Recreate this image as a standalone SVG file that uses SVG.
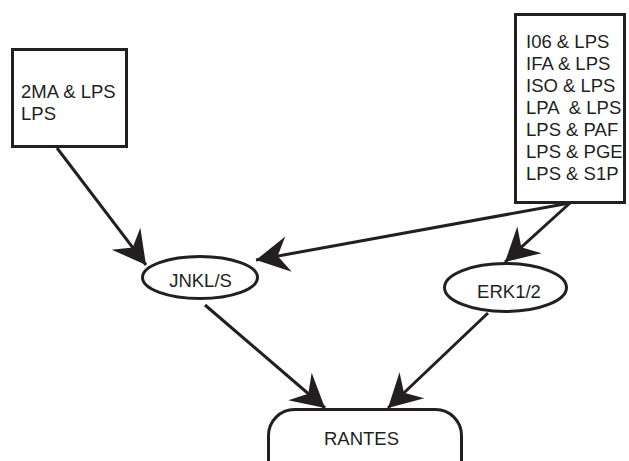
<svg xmlns="http://www.w3.org/2000/svg" width="629" height="461" viewBox="0 0 629 461">
  <style>
    .box { fill: #fff; stroke: #231f20; stroke-width: 3; }
    .node { fill: #fff; stroke: #231f20; stroke-width: 3; }
    .label { font-family: "Liberation Sans", Arial, Helvetica, sans-serif; font-size: 18.5px; fill: #231f20; white-space: pre; }
    .mid { text-anchor: middle; }
    .edge { fill: none; stroke: #231f20; stroke-width: 3; marker-end: url(#stealth); }
  </style>
  <defs>
    <marker id="stealth" markerUnits="userSpaceOnUse" markerWidth="40" markerHeight="40" viewBox="-34 -20 38 40" refX="0" refY="0" orient="auto" overflow="visible">
      <path d="M0,0 L-33,-18 L-22,0 L-33,18 Z" fill="#231f20"/>
    </marker>
  </defs>
  <rect width="629" height="461" fill="#fff"/>

  <g id="connectors">
    <path class="edge" d="M57,148 L146,265"/>
    <path class="edge" d="M570,203 L256,260"/>
    <path class="edge" d="M570,203 L505,262"/>
    <path class="edge" d="M205,305 L325,408"/>
    <path class="edge" d="M488,313 L388,408"/>
  </g>

  <g id="stimuli-left">
    <rect class="box" x="12.5" y="49.5" width="114" height="97"/>
    <text class="label" x="21" y="98">2MA &amp; LPS</text>
    <text class="label" x="21" y="120">LPS</text>
  </g>

  <g id="stimuli-right">
    <rect class="box" x="515.5" y="14.5" width="109" height="188"/>
    <text class="label" x="526" y="48">I06 &amp; LPS</text>
    <text class="label" x="526" y="70">IFA &amp; LPS</text>
    <text class="label" x="526" y="92">ISO &amp; LPS</text>
    <text class="label" x="526" y="114">LPA  &amp; LPS</text>
    <text class="label" x="526" y="136">LPS &amp; PAF</text>
    <text class="label" x="526" y="158">LPS &amp; PGE</text>
    <text class="label" x="526" y="180">LPS &amp; S1P</text>
  </g>

  <g id="jnk">
    <ellipse class="node" cx="200" cy="277.5" rx="57.5" ry="21"/>
    <text class="label mid" x="200.5" y="287">JNKL/S</text>
  </g>

  <g id="erk">
    <ellipse class="node" cx="505.5" cy="287.5" rx="61" ry="24"/>
    <text class="label mid" x="509" y="298">ERK1/2</text>
  </g>

  <g id="rantes">
    <rect class="node" x="268.5" y="409.5" width="193" height="80" rx="26" ry="26"/>
    <text class="label mid" x="361.5" y="445">RANTES</text>
  </g>
</svg>
